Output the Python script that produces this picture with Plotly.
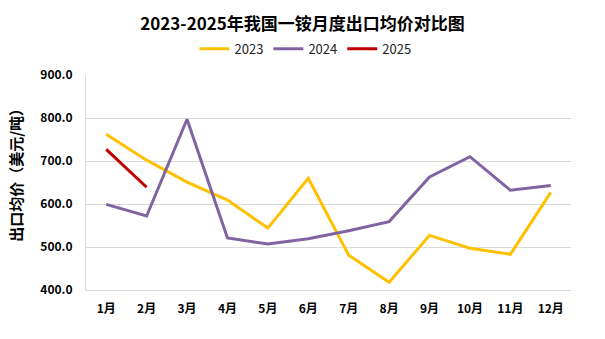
import plotly.graph_objects as go

months = ["1月", "2月", "3月", "4月", "5月", "6月", "7月", "8月", "9月", "10月", "11月", "12月"]
v2023 = [762, 702, 651, 609, 544, 660, 481, 418, 527, 497, 483, 627]
v2024 = [599, 572, 797, 521, 507, 519, 538, 559, 663, 710, 632, 643]
v2025 = [727, 639]
yticks = [400, 500, 600, 700, 800, 900]

FONT = "Noto Sans CJK SC"

fig = go.Figure()
fig.add_trace(go.Scatter(x=months, y=v2023, name="2023", mode="lines",
                         line=dict(color="#FFC000", width=3)))
fig.add_trace(go.Scatter(x=months, y=v2024, name="2024", mode="lines",
                         line=dict(color="#8064A2", width=3)))
fig.add_trace(go.Scatter(x=months[:len(v2025)], y=v2025, name="2025", mode="lines",
                         line=dict(color="#C00000", width=3)))

fig.update_layout(
    width=605, height=339,
    margin=dict(l=86, r=34, t=75, b=49),
    paper_bgcolor="white", plot_bgcolor="white",
    font=dict(family=FONT, color="#000000"),
    title=dict(text="<b>2023-2025年我国一铵月度出口均价对比图</b>",
               x=0.5, xanchor="center", y=0.928, yanchor="middle",
               font=dict(size=17, family=FONT, color="#000000")),
    legend=dict(orientation="h", x=0.5 - 23 / 485, xanchor="center", y=1.122, yanchor="middle",
                font=dict(size=13, family=FONT, color="#222222"),
                itemwidth=30, traceorder="normal"),
    showlegend=True,
)
fig.update_xaxes(
    type="category", categoryorder="array", categoryarray=months,
    showline=True, linecolor="#D9D9D9", linewidth=1,
    showgrid=False, ticks="", ticklabelstandoff=8,
    tickfont=dict(size=12, family=FONT, color="#000000", weight="bold"),
    range=[-0.5, 11.5],
)
fig.update_yaxes(
    range=[400, 900], tickvals=yticks,
    ticktext=[f"{v:.1f}" for v in yticks],
    showline=True, linecolor="#D9D9D9", linewidth=1,
    showgrid=True, gridcolor="#D9D9D9", gridwidth=1,
    zeroline=False, ticks="", ticklabelstandoff=10,
    tickfont=dict(size=12, family=FONT, color="#000000", weight="bold"),
)
fig.add_annotation(text="<b>出口均价（美元/吨）</b>", textangle=-90,
                   xref="paper", yref="paper", x=-86/485 + 16/485, y=0.55,
                   xanchor="center", yanchor="middle", showarrow=False,
                   font=dict(size=15, family=FONT, color="#000000"))

fig.write_html("out.html")
